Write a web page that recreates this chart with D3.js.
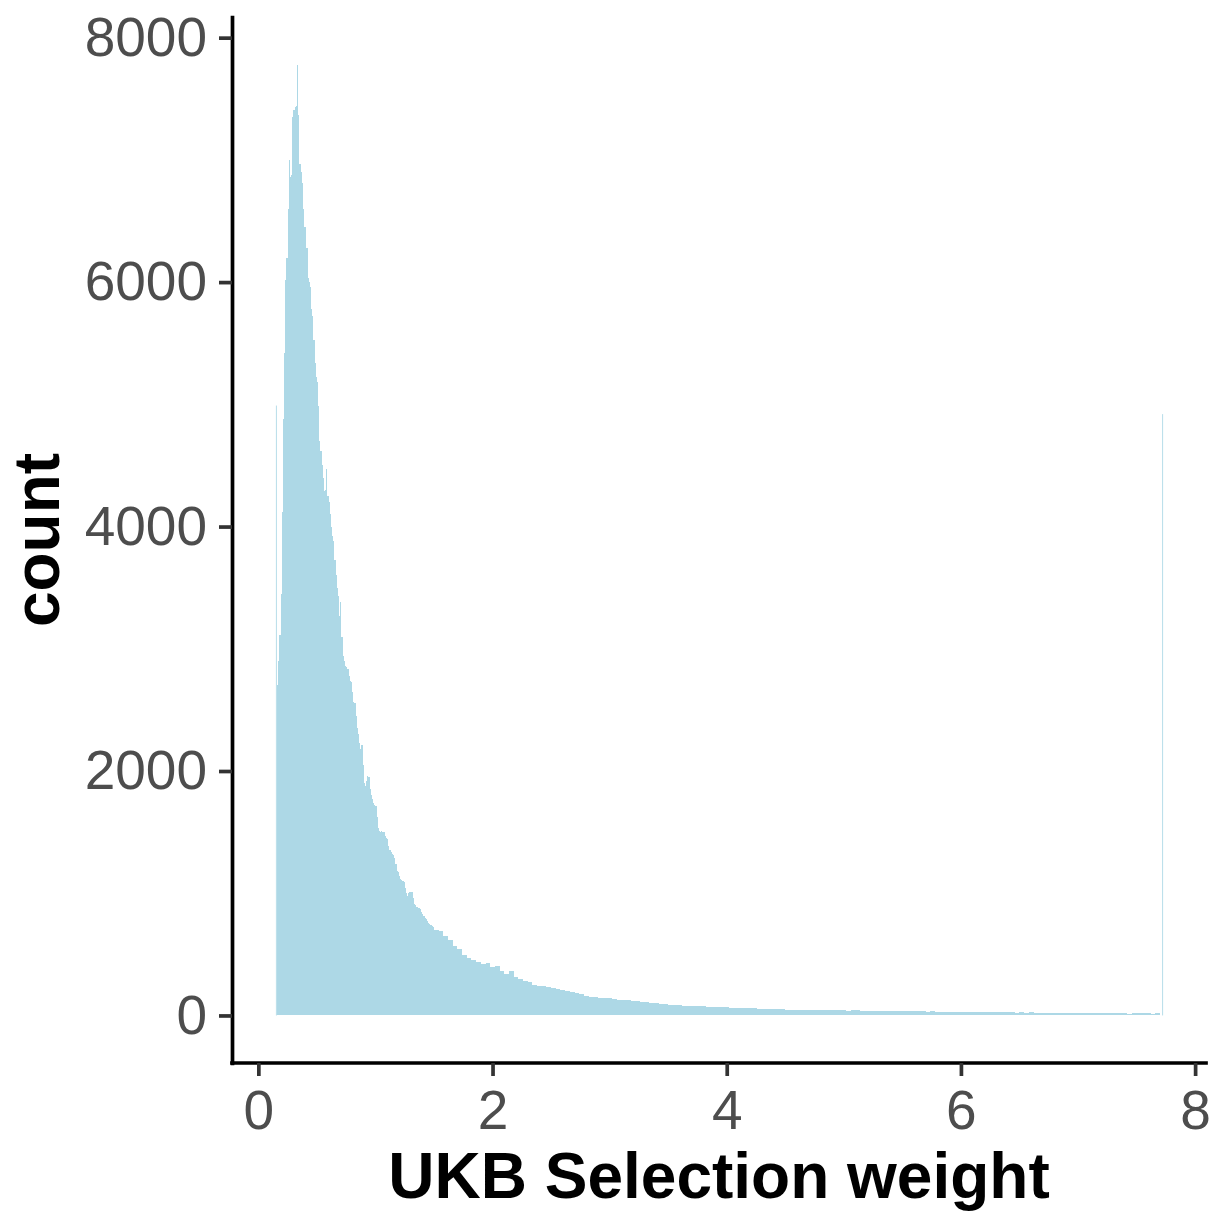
<!DOCTYPE html>
<html>
<head>
<meta charset="utf-8">
<script src="https://cdn.jsdelivr.net/npm/d3@7"></script>
<style>
  body { margin: 0; background: #fff; }
  svg { display: block; font-family: "Liberation Sans", Arial, sans-serif; }
</style>
</head>
<body>
<svg id="chart" width="1221" height="1216"></svg>
<script>
// histogram counts
const fineStart = 0.16, fineStep = 0.01;
const fineCounts = [
  2700, 2900, 3110, 3450, 4120, 4880, 5420, 6020, 6200, 6600,
  7000, 6860, 6880, 7350, 7410, 7430, 7440, 7780, 7370, 6970,
  6900, 6810, 6600, 6450, 6450, 6280, 6030, 6000, 5960, 5780,
  5720, 5530, 5340, 5220, 5180, 4990, 4700, 4620, 4500, 4400,
  4290, 4300, 4470, 4250, 4200, 4100, 4000, 3920, 3880, 3730,
  3600, 3500, 3430, 3270, 3380, 3100, 2940, 2900, 2860, 2850,
  2835, 2780, 2740, 2730, 2650, 2565, 2560, 2450, 2350, 2300,
  2230, 2180, 2210, 2050, 1900, 1880, 1920, 1960, 1950, 1850,
  1800, 1770, 1740, 1720, 1710, 1620, 1530, 1510, 1500, 1510,
  1500, 1500, 1470, 1450, 1440, 1390, 1350, 1340, 1320, 1310,
  1290, 1240, 1180, 1170, 1140, 1120, 1110, 1100, 1090, 1040,
  1000, 980, 1000, 1010, 1010, 1010, 960, 910, 900, 890,
  880, 880, 875, 850, 830, 815, 800, 790, 775, 760,
  750, 740, 735, 720
];

const tailStart = 1.50, tailStep = 0.04;
const tailCounts = [
  700, 690, 650, 615, 570, 540, 495, 470, 450, 440,
  420, 430, 395, 405, 360, 340, 365, 315, 295, 285,
  270, 250, 245, 238, 235, 225, 215, 205, 196, 188,
  180, 176, 160, 155, 152, 146, 145, 142, 137, 130,
  124, 123, 121, 116, 112, 108, 104, 100, 95, 92,
  88, 86, 83, 81, 80, 78, 77, 75, 72, 71,
  69, 68, 66, 63, 63, 62, 60, 58, 57, 55,
  54, 53, 52, 50, 49, 48, 47, 46, 46, 45,
  45, 43, 46, 42, 44, 41, 43, 44, 40, 42,
  41, 39, 40, 38, 40, 37, 38, 36, 37, 35,
  36, 34, 35, 33, 34, 32, 33, 32, 31, 32,
  30, 31, 29, 30, 28, 29, 30, 27, 28, 26,
  27, 25, 26, 26, 24, 25, 23, 25, 22, 24,
  22, 23, 21, 22, 20, 22, 19, 21, 18, 20,
  19, 17, 20, 18, 16, 19, 17, 18, 15, 18,
  17, 16, 18, 15, 17
];

// the clamped weights pile up in one bin at each end
const spikeWeights = [0.150, 7.719];
const spikeCounts = [4990, 4920];
const spikeWidth = 0.0075;

const xTicks = [0, 2, 4, 6, 8];
const yTicks = [0, 2000, 4000, 6000, 8000];
const xTitle = "UKB Selection weight";
const yTitle = "count";

let bins = [];
fineCounts.forEach((c, i) => bins.push({ x0: fineStart + i * fineStep, x1: fineStart + (i + 1) * fineStep, count: c }));
tailCounts.forEach((c, i) => bins.push({ x0: tailStart + i * tailStep, x1: tailStart + (i + 1) * tailStep, count: c }));
let spikes = spikeWeights.map((w, i) => ({ x0: w, x1: w + spikeWidth, count: spikeCounts[i] }));

const panel = { left: 232, right: 1206, top: 17, bottom: 1063 };
const fill = "#ADD8E6";

var svg = d3.select("#chart");

var x = d3.scaleLinear()
    .domain([-0.225, 8.093])
    .range([panel.left, panel.right]);

var yMax = d3.max(bins.concat(spikes), d => d.count);
var y = d3.scaleLinear()
    .domain([-yMax * 0.05, yMax * 1.05])
    .range([panel.bottom, panel.top]);

svg.append("g")
    .selectAll("rect")
    .data(bins)
    .join("rect")
    .attr("x", d => x(d.x0))
    .attr("width", d => x(d.x1) - x(d.x0))
    .attr("y", d => y(d.count))
    .attr("height", d => y(0) - y(d.count))
    .attr("fill", fill)
    .attr("shape-rendering", "crispEdges");

svg.append("g")
    .selectAll("rect")
    .data(spikes)
    .join("rect")
    .attr("x", d => x(d.x0))
    .attr("width", d => x(d.x1) - x(d.x0))
    .attr("y", d => y(d.count))
    .attr("height", d => y(0) - y(d.count))
    .attr("fill", fill);

var xAxis = d3.axisBottom(x)
    .tickValues(xTicks)
    .tickFormat(d3.format("d"))
    .tickSizeInner(13)
    .tickSizeOuter(0)
    .tickPadding(14);

var yAxis = d3.axisLeft(y)
    .tickValues(yTicks)
    .tickFormat(d3.format("d"))
    .tickSizeInner(13)
    .tickSizeOuter(0)
    .tickPadding(12);

var gX = svg.append("g")
    .attr("transform", `translate(0,${panel.bottom})`)
    .call(xAxis);

var gY = svg.append("g")
    .attr("transform", `translate(${panel.left},0)`)
    .call(yAxis);

[gX, gY].forEach(g => {
    g.select(".domain")
        .attr("stroke", "#000")
        .attr("stroke-width", 3.7)
        .attr("stroke-linecap", "square");
    g.selectAll(".tick line")
        .attr("stroke", "#333")
        .attr("stroke-width", 3.7);
    g.selectAll(".tick text")
        .attr("fill", "#4D4D4D")
        .attr("font-size", 55)
        .attr("font-family", "'Liberation Sans', Arial, sans-serif");
});
gX.select(".domain").attr("d", `M${panel.left},0H${panel.right}`);

svg.append("text")
    .attr("x", (panel.left + panel.right) / 2)
    .attr("y", 1198)
    .attr("text-anchor", "middle")
    .attr("font-size", 64)
    .attr("font-weight", "bold")
    .attr("fill", "#000")
    .text(xTitle);

svg.append("text")
    .attr("transform", `translate(59,${(panel.top + panel.bottom) / 2}) rotate(-90)`)
    .attr("text-anchor", "middle")
    .attr("font-size", 64)
    .attr("font-weight", "bold")
    .attr("fill", "#000")
    .text(yTitle);
</script>
</body>
</html>
